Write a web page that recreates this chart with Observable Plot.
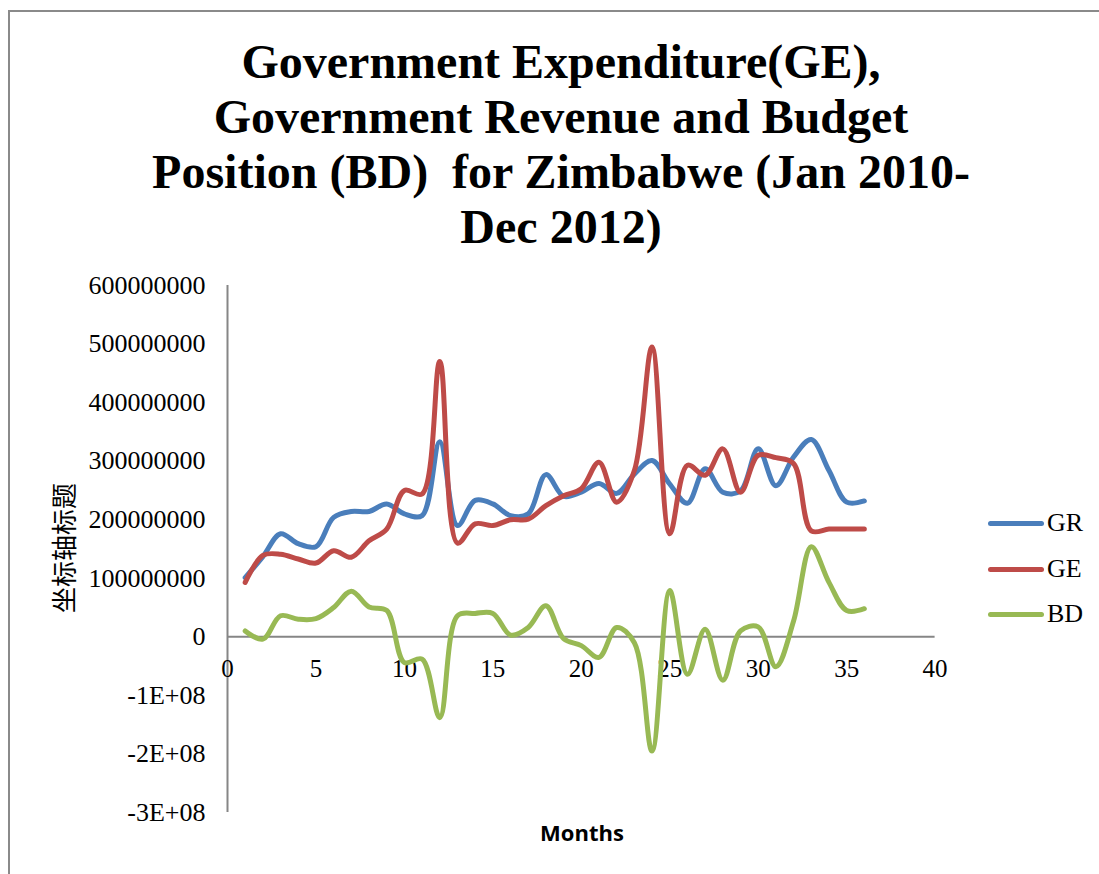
<!DOCTYPE html>
<html><head><meta charset="utf-8">
<script src="https://cdn.jsdelivr.net/npm/d3@7"></script>
<script src="https://cdn.jsdelivr.net/npm/@observablehq/plot@0.6"></script>
<style>
body{margin:0;background:#fff;}
#wrap{position:relative;width:1099px;height:874px;overflow:hidden;background:#fff;}
#frame{position:absolute;left:8px;top:10px;width:1200px;height:1000px;border-left:2px solid #8a8a8a;border-top:2px solid #8a8a8a;}
#title{position:absolute;left:0;top:34px;width:1122px;text-align:center;font:bold 48px/55px "Liberation Serif","Times New Roman",serif;color:#000;white-space:pre;}
#chart{position:absolute;left:0;top:260px;}
#ytitle{position:absolute;left:62px;top:548px;transform:translate(-50%,-50%) rotate(-90deg);font:26px "Noto Sans CJK SC",sans-serif;color:#000;white-space:nowrap;}
#xtitle{position:absolute;left:582px;top:832px;transform:translate(-50%,-50%);font:bold 22px "Open Sans","Liberation Sans",sans-serif;color:#000;}
.leg{position:absolute;left:988px;height:30px;display:flex;align-items:center;font:26px "Liberation Serif","Times New Roman",serif;color:#000;}
.leg span.sw{display:inline-block;width:56px;height:5px;border-radius:3px;margin-right:3px;}
</style></head>
<body>
<div id="wrap">
<div id="frame"></div>
<div id="title"></div>
<div id="chart"></div>
<div id="ytitle">坐标轴标题</div>
<div id="xtitle">Months</div>
<div id="legend"></div>
</div>
<script>
const titleLines = ["Government Expenditure(GE),", "Government Revenue and Budget", "Position (BD)  for Zimbabwe (Jan 2010-", "Dec 2012)"];
const months = [1,2,3,4,5,6,7,8,9,10,11,12,13,14,15,16,17,18,19,20,21,22,23,24,25,26,27,28,29,30,31,32,33,34,35,36];
const GR = [101e6,137e6,176e6,159e6,154e6,204e6,214e6,214e6,227e6,210e6,207e6,333e6,190e6,233e6,227e6,207e6,210e6,277e6,240e6,247e6,262e6,245e6,278e6,301e6,261e6,228e6,287e6,247e6,249e6,321e6,258e6,307e6,337e6,284e6,230e6,232e6];
const GE = [93e6,139e6,141e6,133e6,126e6,147e6,136e6,164e6,184e6,250e6,244e6,470e6,160e6,193e6,190e6,200e6,201e6,224e6,241e6,253e6,298e6,230e6,284e6,495e6,176e6,293e6,276e6,321e6,247e6,310e6,306e6,296e6,181e6,184e6,184e6,184e6];
const BD = [10e6,-4e6,36e6,30e6,31e6,50e6,78e6,51e6,45e6,-44e6,-38e6,-138e6,36e6,40e6,40e6,3e6,16e6,53e6,-3e6,-15e6,-35e6,16e6,-10e6,-195e6,79e6,-64e6,13e6,-74e6,10e6,17e6,-51e6,27e6,154e6,93e6,45e6,48e6];
const seriesNames = ["GR","GE","BD"];
const seriesColors = ["#4a7ebb","#be4b48","#98b954"];
const yTicks = [600e6,500e6,400e6,300e6,200e6,100e6,0,-100e6,-200e6,-300e6];
const yTickLabels = ["600000000","500000000","400000000","300000000","200000000","100000000","0","-1E+08","-2E+08","-3E+08"];
const xTicks = [0,5,10,15,20,25,30,35,40];
const yDomain = [-300e6, 600e6];
const xDomain = [0, 40];

document.getElementById("title").textContent = titleLines.join("\n");

const seriesValues = [GR, GE, BD];
const rows = [];
seriesNames.forEach((s, k) => months.forEach((m, i) => rows.push({month: m, value: seriesValues[k][i], series: s})));

const chart = Plot.plot({
  width: 1099, height: 614,
  marginLeft: 227, marginRight: 164.4, marginTop: 25, marginBottom: 62,
  x: {domain: xDomain, axis: null},
  y: {domain: yDomain, axis: null},
  color: {domain: seriesNames, range: seriesColors},
  style: {fontFamily: '"Liberation Serif","Times New Roman",serif', fontSize: "25px", color: "#000", background: "transparent", overflow: "visible"},
  marks: [
    Plot.ruleX([xDomain[0]], {y1: yDomain[0], y2: yDomain[1], stroke: "#868686", strokeWidth: 2}),
    Plot.ruleY([0], {x1: xDomain[0], x2: xDomain[1], stroke: "#868686", strokeWidth: 2}),
    Plot.axisY({ticks: yTicks, tickFormat: d => yTickLabels[yTicks.indexOf(d)], tickSize: 0, tickPadding: 22, label: null, fontSize: 26, fill: "#000"}),
    Plot.text(xTicks, {x: d => d, y: 0, dy: 32, text: d => String(d), fontSize: 25, fill: "#000"}),
    Plot.line(rows, {x: "month", y: "value", z: "series", stroke: "series", curve: "catmull-rom", strokeWidth: 5, strokeLinecap: "round", strokeLinejoin: "round"})
  ]
});
document.getElementById("chart").appendChild(chart);

const legendTops = [508, 554, 599];
const legend = document.getElementById("legend");
seriesNames.forEach((s, i) => {
  const d = document.createElement("div");
  d.className = "leg";
  d.style.top = legendTops[i] + "px";
  d.innerHTML = `<span class="sw" style="background:${seriesColors[i]}"></span>${s}`;
  legend.appendChild(d);
});
</script>
</body></html>
